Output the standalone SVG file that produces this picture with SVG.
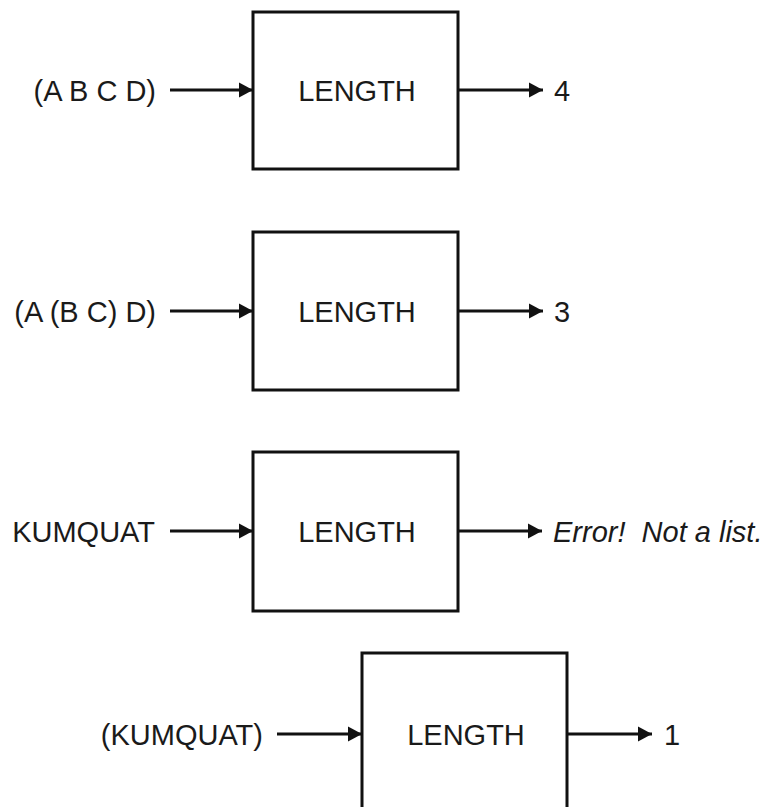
<svg xmlns="http://www.w3.org/2000/svg" width="769" height="807" viewBox="0 0 769 807">
<style>
.box{fill:#fff;stroke:#111;stroke-width:3}
.lbl{font-family:"Liberation Sans",Arial,sans-serif;font-size:29px;fill:#1a1a1a}
.mid{text-anchor:middle}
.end{text-anchor:end}
.conn{stroke:#111;stroke-width:3;fill:none;marker-end:url(#ah)}
</style>
<defs>
<marker id="ah" markerWidth="16" markerHeight="18" refX="14" refY="9" orient="auto" markerUnits="userSpaceOnUse">
<path d="M0,1.5 L14,9 L0,16.5 Z" fill="#111"/>
</marker>
</defs>
<g id="row1">
<g id="in1"><text class="lbl end" x="156" y="101">(A B C D)</text></g>
<g id="box1"><rect class="box" x="253" y="12" width="205" height="157"/><text class="lbl mid" x="357" y="101">LENGTH</text></g>
<g id="out1"><text class="lbl" x="554" y="101">4</text></g>
</g>
<g id="row2">
<g id="in2"><text class="lbl end" x="156" y="322">(A (B C) D)</text></g>
<g id="box2"><rect class="box" x="253" y="232" width="205" height="158"/><text class="lbl mid" x="357" y="322">LENGTH</text></g>
<g id="out2"><text class="lbl" x="554" y="322">3</text></g>
</g>
<g id="row3">
<g id="in3"><text class="lbl end" x="155" y="542">KUMQUAT</text></g>
<g id="box3"><rect class="box" x="253" y="452" width="205" height="159"/><text class="lbl mid" x="357" y="542">LENGTH</text></g>
<g id="out3"><text class="lbl" x="553" y="542" font-style="italic" xml:space="preserve">Error!  Not a list.</text></g>
</g>
<g id="row4">
<g id="in4"><text class="lbl end" x="263" y="745">(KUMQUAT)</text></g>
<g id="box4"><rect class="box" x="362" y="653" width="205" height="160"/><text class="lbl mid" x="466" y="745">LENGTH</text></g>
<g id="out4"><text class="lbl" x="664" y="745">1</text></g>
</g>
<g id="connectors">
<line class="conn" x1="170" y1="90" x2="253" y2="90"/>
<line class="conn" x1="458" y1="90" x2="543" y2="90"/>
<line class="conn" x1="170" y1="311" x2="253" y2="311"/>
<line class="conn" x1="458" y1="311" x2="543" y2="311"/>
<line class="conn" x1="170" y1="531" x2="253" y2="531"/>
<line class="conn" x1="458" y1="531" x2="542" y2="531"/>
<line class="conn" x1="277" y1="734" x2="362" y2="734"/>
<line class="conn" x1="567" y1="734" x2="652" y2="734"/>
</g>
</svg>
